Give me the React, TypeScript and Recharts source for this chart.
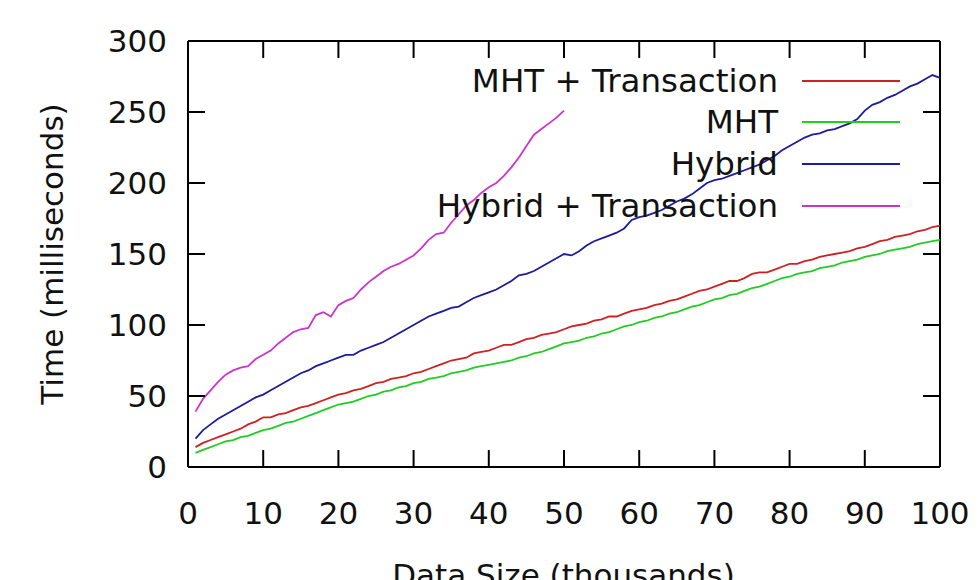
import { LineChart, Line, XAxis, YAxis, Legend, ReferenceLine } from 'recharts'

// data size in thousands
const sizes = [
  1, 2, 3, 4, 5, 6, 7, 8, 9, 10, 11, 12, 13, 14, 15, 16, 17, 18, 19, 20,
  21, 22, 23, 24, 25, 26, 27, 28, 29, 30, 31, 32, 33, 34, 35, 36, 37, 38, 39, 40,
  41, 42, 43, 44, 45, 46, 47, 48, 49, 50, 51, 52, 53, 54, 55, 56, 57, 58, 59, 60,
  61, 62, 63, 64, 65, 66, 67, 68, 69, 70, 71, 72, 73, 74, 75, 76, 77, 78, 79, 80,
  81, 82, 83, 84, 85, 86, 87, 88, 89, 90, 91, 92, 93, 94, 95, 96, 97, 98, 99, 100,
]

const mhtTx = [
  14, 17, 19, 21, 23, 25, 27, 30, 32, 35, 35, 37, 38, 40, 42, 43, 45, 47, 49, 51,
  52, 54, 55, 57, 59, 60, 62, 63, 64, 66, 67, 69, 71, 73, 75, 76, 77, 80, 81, 82,
  84, 86, 86, 88, 90, 91, 93, 94, 95, 97, 99, 100, 101, 103, 104, 106, 106, 108, 110, 111,
  112, 114, 115, 117, 118, 120, 122, 124, 125, 127, 129, 131, 131, 133, 136, 137, 137, 139, 141, 143,
  143, 145, 146, 148, 149, 150, 151, 152, 154, 155, 157, 159, 160, 162, 163, 164, 166, 167, 169, 170,
]

const mht = [
  10, 12, 14, 16, 18, 19, 21, 22, 24, 26, 27, 29, 31, 32, 34, 36, 38, 40, 42, 44,
  45, 46, 48, 50, 51, 53, 54, 56, 57, 59, 60, 62, 63, 64, 66, 67, 68, 70, 71, 72,
  73, 74, 75, 77, 78, 80, 81, 83, 85, 87, 88, 89, 91, 92, 94, 95, 97, 99, 100, 102,
  103, 105, 106, 108, 109, 111, 113, 114, 116, 118, 119, 121, 122, 124, 126, 127, 129, 131, 133, 134,
  136, 137, 138, 140, 141, 142, 144, 145, 146, 148, 149, 150, 152, 153, 154, 155, 157, 158, 159, 160,
]

const hybrid = [
  20, 26, 30, 34, 37, 40, 43, 46, 49, 51, 54, 57, 60, 63, 66, 68, 71, 73, 75, 77,
  79, 79, 82, 84, 86, 88, 91, 94, 97, 100, 103, 106, 108, 110, 112, 113, 116, 119, 121, 123,
  125, 128, 131, 135, 136, 138, 141, 144, 147, 150, 149, 152, 156, 159, 161, 163, 165, 168, 174, 176,
  177, 179, 181, 184, 187, 189, 192, 196, 200, 202, 203, 205, 207, 209, 211, 213, 216, 219, 223, 226,
  229, 232, 234, 235, 237, 238, 240, 242, 245, 251, 255, 257, 260, 262, 265, 268, 270, 273, 276, 274,
]

// only measured up to 50k
const hybridTx = [
  39, 48, 54, 60, 65, 68, 70, 71, 76, 79, 82, 87, 91, 95, 97, 98, 107, 109, 106, 114,
  117, 119, 125, 130, 134, 138, 141, 143, 146, 149, 154, 160, 164, 165, 172, 178, 184, 188, 193, 197,
  200, 205, 211, 218, 226, 234, 238, 242, 246, 251,
]

const seriesNames = ['MHT + Transaction', 'MHT', 'Hybrid', 'Hybrid + Transaction']
const xTicks = [0, 10, 20, 30, 40, 50, 60, 70, 80, 90, 100]
const yTicks = [0, 50, 100, 150, 200, 250, 300]

const data = sizes.map((s, i) => ({
  size: s,
  mhtTx: mhtTx[i],
  mht: mht[i],
  hybrid: hybrid[i],
  hybridTx: hybridTx[i],
}))

const font = '"DejaVu Sans", sans-serif'
const ink = '#111'
const tickLen = 17

// plot box (from the chart margins below): x 188..940, y 41..467
const box = { left: 188, right: 940, top: 41, bottom: 467 }
const px = (v: number) => box.left + (v / 100) * (box.right - box.left)
const py = (v: number) => box.bottom - (v / 300) * (box.bottom - box.top)

const BottomTick = ({ x, y, payload }: any) => (
  <text x={x} y={y + 57} textAnchor="middle" fontSize={31} fontFamily={font} fill={ink}>{payload.value}</text>
)
const LeftTick = ({ x, y, payload }: any) => (
  <text x={x - 21} y={y + 11} textAnchor="end" fontSize={31} fontFamily={font} fill={ink}>{payload.value}</text>
)

// gnuplot style inward ticks, mirrored on all four sides
const TickMarks = () => (
  <svg width={980} height={580} style={{ position: 'absolute', left: 0, top: 0, pointerEvents: 'none' }}>
    {xTicks.slice(1, -1).map((t) => (
      <g key={'x' + t} stroke="#000" strokeWidth={2}>
        <line x1={px(t)} x2={px(t)} y1={box.bottom} y2={box.bottom - tickLen} />
        <line x1={px(t)} x2={px(t)} y1={box.top} y2={box.top + tickLen} />
      </g>
    ))}
    {yTicks.slice(1, -1).map((t) => (
      <g key={'y' + t} stroke="#000" strokeWidth={2}>
        <line x1={box.left} x2={box.left + tickLen} y1={py(t)} y2={py(t)} />
        <line x1={box.right} x2={box.right - tickLen} y1={py(t)} y2={py(t)} />
      </g>
    ))}
  </svg>
)

// legend box sits at (420, 55) in the chart
const legendRows = [26, 67, 109, 151]
const renderLegend = ({ payload }: any) => {
  const items = seriesNames.map((n) => (payload || []).find((p: any) => p.value === n)).filter(Boolean)
  return (
    <svg width={490} height={175}>
      {items.map((p: any, i: number) => (
        <g key={p.value}>
          <text x={358} y={legendRows[i] + 11} textAnchor="end" fontSize={32.5} fontFamily={font} fill={ink}>{p.value}</text>
          <line x1={382} x2={480} y1={legendRows[i]} y2={legendRows[i]} stroke={p.color} strokeWidth={1.8} />
        </g>
      ))}
    </svg>
  )
}

const axisLine = { stroke: '#000', strokeWidth: 2 }

export default function App() {
  return (
    <div style={{ position: 'absolute', left: 0, top: 0, width: 980, height: 580, background: '#fff', fontFamily: font }}>
      <LineChart width={980} height={580} data={data} margin={{ top: 41, right: 40, bottom: 0, left: 0 }}>
        <XAxis dataKey="size" type="number" domain={[0, 100]} ticks={xTicks} interval={0} height={113}
          axisLine={axisLine} tickLine={false} tickSize={0} tickMargin={0} tick={<BottomTick />} />
        <YAxis type="number" domain={[0, 300]} ticks={yTicks} interval={0} width={188}
          axisLine={axisLine} tickLine={false} tickSize={0} tickMargin={0} tick={<LeftTick />} />
        {/* top and right sides of the frame */}
        <ReferenceLine y={300} stroke="#000" strokeWidth={2} ifOverflow="visible" />
        <ReferenceLine x={100} stroke="#000" strokeWidth={2} ifOverflow="visible" />
        <Legend align="center" verticalAlign="middle" layout="horizontal" content={renderLegend}
          wrapperStyle={{ left: 420, top: 55, width: 490, height: 175 }} />
        <Line name="MHT + Transaction" dataKey="mhtTx" type="linear" stroke="#cc2222" strokeWidth={1.8} dot={false} isAnimationActive={false} />
        <Line name="MHT" dataKey="mht" type="linear" stroke="#22cc22" strokeWidth={1.8} dot={false} isAnimationActive={false} />
        <Line name="Hybrid" dataKey="hybrid" type="linear" stroke="#1c1c9c" strokeWidth={1.8} dot={false} isAnimationActive={false} />
        <Line name="Hybrid + Transaction" dataKey="hybridTx" type="linear" stroke="#cc33cc" strokeWidth={1.8} dot={false} isAnimationActive={false} />
      </LineChart>
      <TickMarks />
      <div style={{ position: 'absolute', left: 52, top: 254, width: 0, height: 0 }}>
        <div style={{ position: 'absolute', transform: 'translate(-50%, -50%) rotate(-90deg)', whiteSpace: 'nowrap', fontSize: 31, color: ink, lineHeight: 1 }}>
          Time (milliseconds)
        </div>
      </div>
      <div style={{ position: 'absolute', left: 0, width: 1127, top: 560, textAlign: 'center', fontSize: 31, color: ink, lineHeight: 1, whiteSpace: 'nowrap' }}>
        Data Size (thousands)
      </div>
    </div>
  )
}
